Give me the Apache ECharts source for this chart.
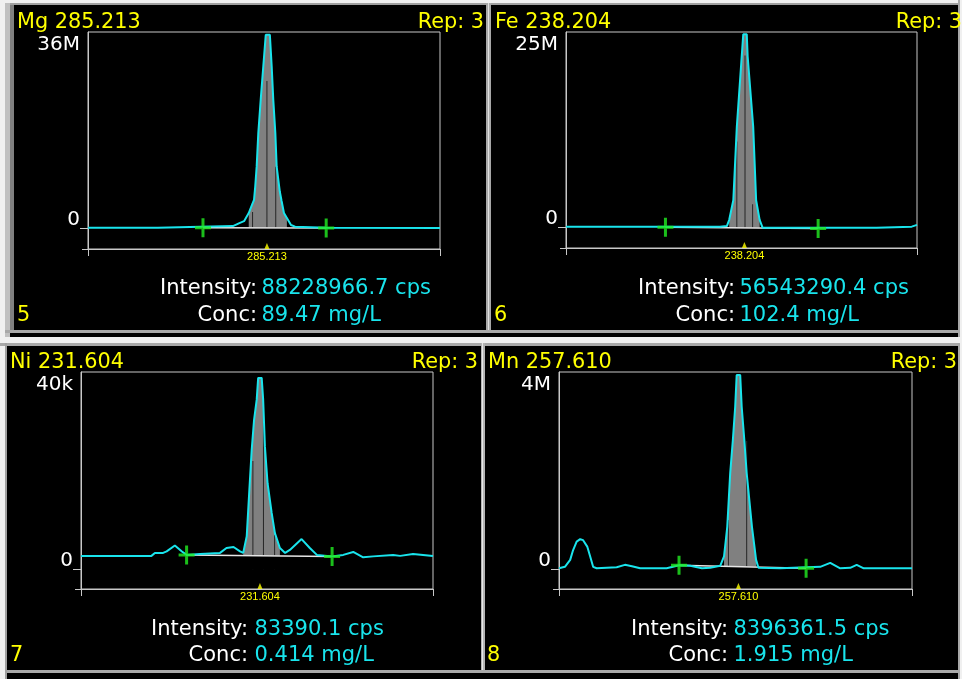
<!DOCTYPE html>
<html>
<head>
<meta charset="utf-8">
<script src="https://cdn.jsdelivr.net/npm/echarts@6.0.0/dist/echarts.min.js"></script>
<style>
html, body { margin: 0; padding: 0; background: #000; }
#chart { width: 962px; height: 679px; }
</style>
</head>
<body>
<div id="chart"></div>
<script>
// x = offset from line centre (pm), y = intensity (M or k counts)
var mgCurve = [[-30.5, 0.1], [-18.6, 0.1], [-18.4, 0.3], [-5.8, 0.4], [-4.6, 1.0], [-3.9, 1.3], [-3.1, 2.8], [-2.55, 4.3],
  [-2.2, 5.2], [-2.0, 7.6], [-1.75, 11.3], [-1.47, 17.5], [-1.06, 23.6], [-0.62, 29.7], [-0.2, 35.5], [0.5, 35.5],
  [0.81, 29.7], [1.08, 23.6], [1.43, 17.5], [1.66, 11.3], [2.2, 6.7], [2.5, 5.0], [2.9, 2.8], [3.4, 1.9], [4.1, 0.6],
  [4.8, 0.3], [10.1, 0.1], [29.5, 0.05]];
var feCurve = [[-30.5, 0.13], [-4.2, 0.13], [-3.0, 0.2], [-2.6, 1.0], [-1.9, 3.5], [-1.3, 12.9], [-0.2, 24.7], [0.4, 24.7],
  [0.55, 21.9], [1.5, 12.9], [2.0, 3.5], [2.6, 1.0], [3.1, 0.0], [22.6, 0.0], [22.8, 0.13], [28.6, 0.13], [28.8, 0.35], [29.5, 0.35]];
var niCurve = [[-30.5, 2.8], [-18.5, 2.8], [-17.9, 3.4], [-16.5, 3.4], [-15.9, 3.7], [-14.5, 4.9], [-13.3, 3.7], [-12.5, 3.0],
  [-10.2, 3.2], [-6.8, 3.4], [-5.7, 4.4], [-4.5, 4.6], [-3.4, 3.7], [-2.85, 3.4], [-2.25, 6.8], [-1.8, 16.2], [-1.4, 24.3],
  [-1.0, 30.3], [-0.55, 34.4], [-0.3, 38.8], [0.3, 38.8], [0.55, 34.4], [0.85, 24.9], [1.3, 17.5], [2.0, 11.5], [2.55, 7.4],
  [3.4, 4.4], [4.3, 3.4], [5.1, 4.0], [7.1, 6.2], [8.5, 4.4], [9.7, 3.0], [12.3, 2.7], [14.2, 3.0], [15.9, 3.6], [17.6, 2.5],
  [19.3, 2.7], [22.7, 3.0], [23.9, 2.8], [26.1, 3.2], [29.5, 2.8]];
var mnCurve = [[-30.5, 0.02], [-29.5, 0.05], [-28.6, 0.19], [-28.1, 0.39], [-27.5, 0.56], [-26.9, 0.61], [-26.4, 0.59],
  [-25.7, 0.46], [-25.2, 0.26], [-24.7, 0.05], [-24.1, 0.02], [-20.7, 0.04], [-19.3, 0.09], [-18.1, 0.06], [-16.7, 0.02],
  [-12.2, 0.02], [-10.1, 0.08], [-8.2, 0.07], [-6.2, 0.02], [-4.8, 0.03], [-3.1, 0.07], [-2.45, 0.26], [-1.9, 0.86],
  [-1.4, 1.95], [-0.95, 2.62], [-0.55, 3.3], [-0.3, 3.94], [0.3, 3.94], [0.55, 3.3], [1.0, 2.62], [1.4, 1.95], [2.3, 0.86],
  [3.0, 0.19], [3.4, 0.03], [7.1, 0.02], [13.9, 0.05], [15.6, 0.13], [17.3, 0.02], [19.0, 0.03], [20.1, 0.09], [21.3, 0.02],
  [29.5, 0.02]];

// integrated (grey) region of each peak
var mgFill = [-3.3, 3.6];
var feFill = [-2.7, 2.7];
var niFill = [-2.9, 3.7];
var mnFill = [-2.9, 3.1];

// dark slice lines inside the grey region
var mgSlices = [[-2.45, 3.0], [0.0, 27.0], [1.5, 11.3]];
var feSlices = [[-1.3, 11.0], [0.1, 22.0], [1.4, 3.0]];
var niSlices = [[-1.2, 22.0], [0.6, 33.0], [2.5, 7.0]];
var mnSlices = [[-1.7, 1.0], [1.4, 2.6]];

// background correction points (green crosses, white line between them)
var mgBg = [[-10.9, 0.1], [10.1, 0.05]];
var feBg = [[-13.5, 0.05], [12.6, -0.1]];
var niBg = [[-12.5, 3.0], [12.3, 2.7]];
var mnBg = [[-10.1, 0.08], [11.5, 0.02]];

var titles = ['Mg 285.213', 'Fe 238.204', 'Ni 231.604', 'Mn 257.610'];
var waveLabels = ['285.213', '238.204', '231.604', '257.610'];
var intensities = ['88228966.7 cps', '56543290.4 cps', '83390.1 cps', '8396361.5 cps'];
var concs = ['89.47 mg/L', '102.4 mg/L', '0.414 mg/L', '1.915 mg/L'];
var panelNums = ['5', '6', '7', '8'];
var yMaxes = [36, 25, 40, 4];
var yMins = [-3.8, -2.6, -3.9, -0.4];
var yUnits = ['M', 'M', 'k', 'M'];
var xMin = -30.5, xMax = 29.5;

var curves = [mgCurve, feCurve, niCurve, mnCurve];
var fills = [mgFill, feFill, niFill, mnFill];
var slices = [mgSlices, feSlices, niSlices, mnSlices];
var bgs = [mgBg, feBg, niBg, mnBg];

// screen layout of the four panels
var layout = [
  { grid: [88, 32, 352, 217], title: [17, 23], rep: [484, 23], num: [17, 316], lab: 257, val: 261.5, y1: 289, y2: 316 },
  { grid: [566, 32, 351, 216], title: [495, 23], rep: [962, 23], num: [494, 316], lab: 735, val: 739.5, y1: 289, y2: 316 },
  { grid: [81, 372, 352, 217], title: [10, 363], rep: [478, 363], num: [10, 656], lab: 248, val: 254.5, y1: 630, y2: 656 },
  { grid: [559, 372, 353, 217], title: [488, 363], rep: [957, 363], num: [487, 656], lab: 728, val: 733.5, y1: 630, y2: 656 }
];

var FONT = '"DejaVu Sans"';
var CYAN = '#19e4ec';
var YELLOW = '#ffff00';
var FRAME = '#c8c8c8';
var crossPath = 'path://M0,8H16V11H0Z M6.5,0H9.5V19H6.5Z';

var grids = [], xAxes = [], yAxes = [], series = [], graphics = [];

function box(x, y, w, h, c) {
  return { type: 'rect', silent: true, shape: { x: x, y: y, width: w, height: h }, style: { fill: c } };
}
function txt(s, x, y, c, size, align) {
  return {
    type: 'text', silent: true, x: x, y: y, z: 20,
    style: { text: s, fill: c, font: size + 'px ' + FONT, align: align || 'left', verticalAlign: 'middle' }
  };
}

// window frame / bevels
graphics.push(box(0, 0, 962, 3, '#f0f0f0'));
graphics.push(box(0, 0, 5, 679, '#f0f0f0'));
graphics.push(box(5, 3, 957, 2, '#a0a0a0'));
graphics.push(box(5, 3, 5, 334, '#c0c0c0'));
graphics.push(box(10, 5, 4, 328, '#808080'));
graphics.push(box(486, 3, 5, 330, '#a8a8a8'));
graphics.push(box(488, 3, 1, 330, '#e0e0e0'));
graphics.push(box(958, 0, 2, 679, '#a8a8a8'));
graphics.push(box(960, 0, 2, 679, '#f0f0f0'));
graphics.push(box(5, 330, 953, 3, '#a8a8a8'));
graphics.push(box(0, 337, 962, 6, '#f0f0f0'));
graphics.push(box(0, 343, 958, 3, '#a8a8a8'));
graphics.push(box(5, 343, 2, 336, '#a0a0a0'));
graphics.push(box(481, 343, 4, 327, '#b4b4b4'));
graphics.push(box(482, 343, 1, 327, '#e8e8e8'));
graphics.push(box(7, 670, 951, 3, '#a8a8a8'));

for (var i = 0; i < 4; i++) {
  var L = layout[i];
  grids.push({
    left: L.grid[0], top: L.grid[1], width: L.grid[2], height: L.grid[3],
    show: true, borderColor: FRAME, borderWidth: 1, backgroundColor: 'transparent'
  });
  // x axis line runs a little past the left frame
  graphics.push(box(L.grid[0] - 6, L.grid[1] + L.grid[3], 6, 1, FRAME));

  xAxes.push({
    type: 'value', gridIndex: i, min: xMin, max: xMax,
    axisLine: { onZero: false, lineStyle: { color: FRAME } },
    axisTick: { customValues: [xMin, xMax], length: 7, lineStyle: { color: FRAME } },
    axisLabel: {
      customValues: [0], margin: 2, color: YELLOW, fontSize: 11, fontFamily: 'Liberation Sans',
      formatter: (function (k) { return function () { return waveLabels[k]; }; })(i)
    },
    splitLine: { show: false }
  });
  yAxes.push({
    type: 'value', gridIndex: i, min: yMins[i], max: yMaxes[i],
    axisLine: { show: true, onZero: false, lineStyle: { color: FRAME } },
    axisTick: { customValues: [0], length: 8, lineStyle: { color: FRAME } },
    axisLabel: {
      customValues: [0, yMaxes[i]], margin: 8, verticalAlign: 'middle',
      color: '#fff', fontSize: 20, fontFamily: FONT,
      formatter: (function (k) {
        return function (v) { return v === 0 ? '{z|0}' : '{t|' + yMaxes[k] + yUnits[k] + '}'; };
      })(i),
      rich: {
        z: { color: '#fff', fontSize: 20, fontFamily: FONT, padding: [0, 0, 17, 0] },
        t: { color: '#fff', fontSize: 20, fontFamily: FONT, padding: [26, 0, 0, 0] }
      }
    },
    splitLine: { show: false }
  });

  // grey peak area sits on the background level (black mask as a fallback below it)
  var f = fills[i];
  var base = (bgs[i][0][1] + bgs[i][1][1]) / 2;
  var inFill = curves[i].filter(function (p) { return p[0] >= f[0] && p[0] <= f[1]; });
  var maskData = inFill.map(function (p) { return [p[0], base]; });

  series.push({
    type: 'line', xAxisIndex: i, yAxisIndex: i, data: inFill, showSymbol: false, z: 2,
    lineStyle: { width: 0, opacity: 0 }, areaStyle: { color: '#808080', opacity: 1, origin: base }, silent: true
  });
  series.push({
    type: 'bar', xAxisIndex: i, yAxisIndex: i, data: slices[i], barWidth: 1, z: 3,
    itemStyle: { color: '#262626' }, silent: true
  });
  series.push({
    type: 'line', xAxisIndex: i, yAxisIndex: i, data: maskData, showSymbol: false, z: 4,
    lineStyle: { width: 0, opacity: 0 }, areaStyle: { color: '#000', opacity: 1 }, silent: true
  });
  series.push({
    type: 'line', xAxisIndex: i, yAxisIndex: i, data: bgs[i], showSymbol: false, z: 5,
    lineStyle: { color: '#e6e6e6', width: 1.5 }, silent: true
  });
  series.push({
    type: 'line', xAxisIndex: i, yAxisIndex: i, data: curves[i], showSymbol: false, z: 6,
    lineStyle: { color: CYAN, width: 2 }, silent: true
  });
  series.push({
    type: 'scatter', xAxisIndex: i, yAxisIndex: i, data: bgs[i], symbol: crossPath, symbolSize: [16, 19], z: 7,
    itemStyle: { color: '#22ee22' }, silent: true
  });
  // yellow line-centre marker on the axis
  series.push({
    type: 'scatter', xAxisIndex: i, yAxisIndex: i, data: [[0, yMins[i]]], symbol: 'triangle',
    symbolSize: [5, 6], symbolOffset: [0, -3], clip: false, z: 7,
    itemStyle: { color: YELLOW }, silent: true
  });

  graphics.push(txt(titles[i], L.title[0], L.title[1], YELLOW, 20.8));
  graphics.push(txt('Rep: 3', L.rep[0], L.rep[1], YELLOW, 20.8, 'right'));
  graphics.push(txt(panelNums[i], L.num[0], L.num[1], YELLOW, 20.8));
  graphics.push(txt('Intensity:', L.lab, L.y1, '#fff', 21, 'right'));
  graphics.push(txt(intensities[i], L.val, L.y1, CYAN, 21));
  graphics.push(txt('Conc:', L.lab, L.y2, '#fff', 21, 'right'));
  graphics.push(txt(concs[i], L.val, L.y2, CYAN, 21));
}

var myChart = echarts.init(document.getElementById('chart'));
myChart.setOption({
  backgroundColor: '#000',
  animation: false,
  grid: grids,
  xAxis: xAxes,
  yAxis: yAxes,
  series: series,
  graphic: graphics
});
</script>
</body>
</html>
